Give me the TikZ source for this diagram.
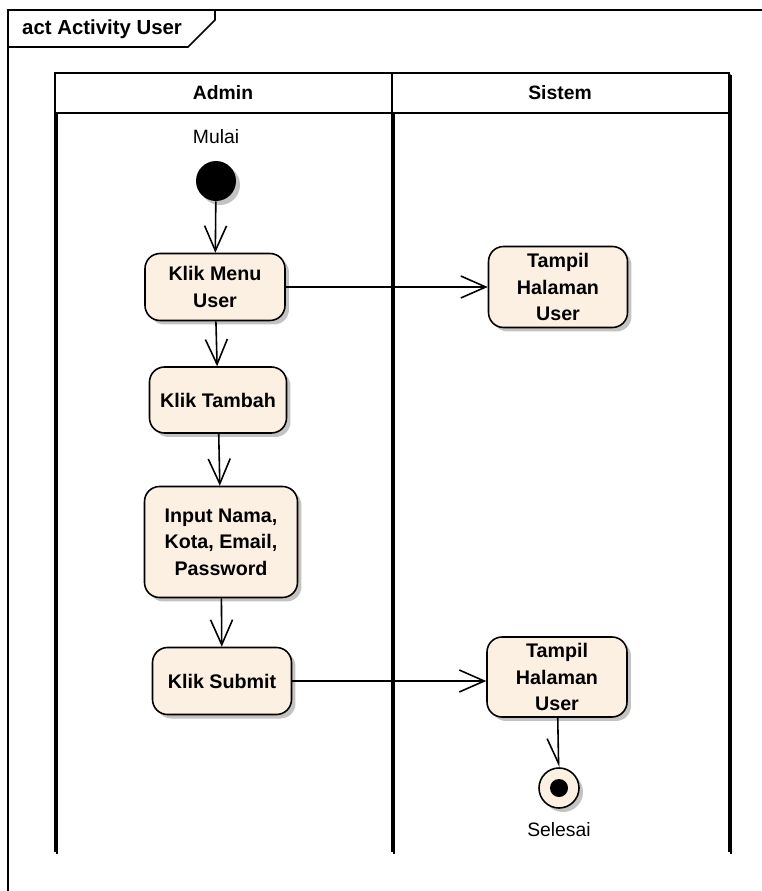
\documentclass[tikz,border=0pt]{standalone}
\usepackage{fontspec}
\setmainfont{Liberation Sans}
\usetikzlibrary{arrows.meta,shadows}
\definecolor{actfill}{RGB}{251,240,226}
\definecolor{shade}{RGB}{195,195,195}

\begin{document}
\begin{tikzpicture}[
		x=0.02cm, y=-0.02cm,
		act/.style={draw, line width=0.9pt, fill=actfill, rounded corners=0.3cm, align=center,
				font=\fontsize{11.2}{15}\selectfont\bfseries,
				drop shadow={shadow xshift=0.08cm, shadow yshift=-0.08cm, fill=shade, opacity=1}},
		flow/.style={line width=0.9pt, -{Straight Barb[length=0.5cm, width=0.44cm]}},
		lane/.style={line width=1pt},
		laneshade/.style={line width=1pt, shade},
		head/.style={font=\fontsize{11}{13}\selectfont\bfseries},
		tag/.style={font=\fontsize{11}{13}\selectfont},
	]
	\useasboundingbox (0,0) rectangle (761,891);
	% frame and its name tab
	\draw[line width=0.9pt] (780,10) -- (8,10) -- (8,900);
	\draw[line width=0.9pt] (8,47) -- (188,47) -- (215,20) -- (215,10);
	\node[font=\fontsize{11.6}{13}\selectfont\bfseries, anchor=west] (frametitle) at (16,29) {act Activity User};

	% swimlanes
	\fill[shade] (57,75) rectangle (731,115);
	\foreach \x in {57,394,731}
	\draw[laneshade] (\x,75) -- (\x,854);
	\draw[lane, fill=white] (55,73) rectangle (729,113);
	\foreach \x in {55,392,729}
	\draw[lane] (\x,73) -- (\x,852);
	\node[head] (admin) at (223,93) {Admin};
	\node[head] (sistem) at (560,93) {Sistem};

	% start
	\node[tag] (mulai) at (216,137) {Mulai};
	\node[circle, fill=black, minimum size=0.8cm, inner sep=0pt,
		drop shadow={shadow xshift=0.08cm, shadow yshift=-0.08cm, fill=shade, opacity=1}] (start) at (216,181) {};

	% actions
	\node[act, minimum width=2.8cm, minimum height=1.34cm] (menu) at (215,287) {Klik Menu\\User};
	\node[act, minimum width=2.74cm, minimum height=1.32cm] (tambah) at (218,400) {Klik Tambah};
	\node[act, minimum width=3.06cm, minimum height=2.22cm] (input) at (221,542) {Input Nama,\\Kota, Email,\\Password};
	\node[act, minimum width=2.78cm, minimum height=1.34cm] (submit) at (222,681) {Klik Submit};
	\node[act, minimum width=2.78cm, minimum height=1.62cm] (tampilA) at (558,287) {Tampil\\Halaman\\User};
	\node[act, minimum width=2.8cm, minimum height=1.6cm] (tampilB) at (557,677) {Tampil\\Halaman\\User};

	% end
	\node[circle, draw, line width=0.9pt, fill=actfill, minimum size=0.8cm, inner sep=0pt,
		drop shadow={shadow xshift=0.08cm, shadow yshift=-0.08cm, fill=shade, opacity=1}] (stop) at (559,788) {};
	\node[circle, fill=black, minimum size=0.36cm, inner sep=0pt] (stopdot) at (stop) {};
	\node[tag] (selesai) at (559,830) {Selesai};

	% control flows
	\draw[flow] (start) -- (menu);
	\draw[flow] (menu) -- (tambah);
	\draw[flow] (tambah) -- (input);
	\draw[flow] (input) -- (submit);
	\draw[flow] (menu) -- (tampilA);
	\draw[flow] (submit.east) -- (submit.east -| tampilB.west);
	\draw[line width=0.9pt, -{Straight Barb[harpoon, swap, length=0.5cm, width=0.44cm]}] (tampilB) -- (stop);
\end{tikzpicture}
\end{document}
